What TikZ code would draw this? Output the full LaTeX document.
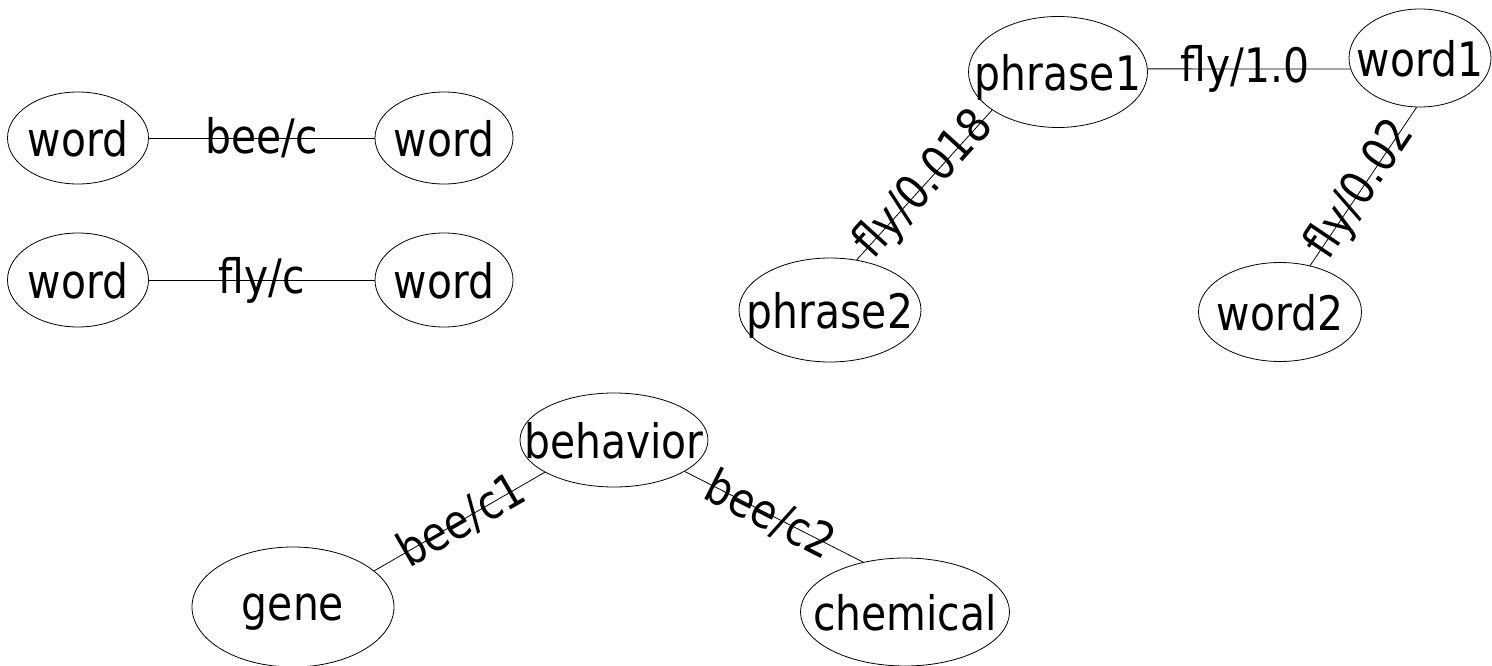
\documentclass[tikz,border=0pt]{standalone}
\usepackage{fontspec}
\setmainfont{DejaVu Sans}[FakeStretch=0.86]
\usetikzlibrary{shapes.geometric}
\newcommand\eltext[1]{\makebox[0pt]{\raisebox{-0.5\height}[0pt][0pt]{#1}}}
\begin{document}
\begin{tikzpicture}[x=1pt,y=-1pt,
  el/.style={draw, ellipse, inner sep=0pt, font=\fontsize{47.5}{54}\selectfont, line width=0.8pt},
  lbl/.style={sloped, font=\fontsize{47.5}{54}\selectfont, inner sep=0pt},
  edge/.style={line width=0.8pt}]
\useasboundingbox (0,0) rectangle (1492,666);
% left pairs
\node[el, minimum width=141pt, minimum height=92pt] (wa) at (78,138) {\eltext{word}};
\node[el, minimum width=138pt, minimum height=92pt] (wb) at (444,138) {\eltext{word}};
\node[el, minimum width=141pt, minimum height=94pt] (wc) at (78,280) {\eltext{word}};
\node[el, minimum width=138pt, minimum height=94pt] (wd) at (444,280) {\eltext{word}};
\draw[edge] (wa) -- node[lbl]{bee/c} (wb);
\draw[edge] (wc) -- node[lbl]{fly/c} (wd);
% top right
\node[el, minimum width=179pt, minimum height=111pt] (p1) at (1058,72) {\eltext{phrase1}};
\node[el, minimum width=182pt, minimum height=104pt] (p2) at (830,310) {\eltext{phrase2}};
\node[el, minimum width=142pt, minimum height=98pt] (w1) at (1420,58) {\eltext{word1}};
\node[el, minimum width=163pt, minimum height=99pt] (w2) at (1280,312) {\eltext{word2}};
\draw[edge] (p1.2) -- node[lbl, pos=0.48]{fly/1.0} (w1.189);
\draw[edge] (p1.210) -- node[lbl, pos=0.5]{fly/0.018} (p2.62);
\draw[edge] (w1.266) -- node[lbl, pos=0.52]{fly/0.02} (w2.57);
% bottom
\node[el, minimum width=188pt, minimum height=94pt] (be) at (614,440) {\eltext{behavior}};
\node[el, minimum width=202pt, minimum height=120pt] (ge) at (293,607) {\eltext{gene}};
\node[el, minimum width=209pt, minimum height=108pt] (ch) at (905,612) {\eltext{chemical}};
\draw[edge] (be.205) -- node[lbl, pos=0.49]{bee/c1} (ge.24);
\draw[edge] (be.336) -- node[lbl, pos=0.48]{bee/c2} (ch.130);
\end{tikzpicture}
\end{document}
